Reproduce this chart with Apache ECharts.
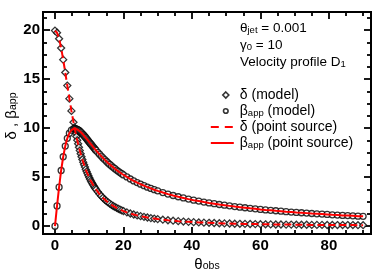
<!DOCTYPE html>
<html><head><meta charset="utf-8">
<script src="https://cdn.jsdelivr.net/npm/echarts@6/dist/echarts.min.js"></script>
<style>html,body{margin:0;padding:0;background:#fff}#c{width:382px;height:273px}</style>
</head><body><div id="c"></div>
<script>
// observation angle (deg)
const theta = [0, 0.6, 1.2, 1.8, 2.4, 3.0, 3.6, 4.2, 4.8, 5.4, 5.7,
  6, 6.25, 6.5, 6.75, 7, 7.25, 7.5, 7.75, 8, 8.25, 8.5, 8.75, 9, 9.25, 9.5, 9.75,
  10, 10.25, 10.5, 10.75, 11, 11.25, 11.5, 11.75, 12,
  12.5, 13, 13.5, 14, 14.5, 15, 15.5, 16, 16.5, 17, 17.5, 18, 18.5, 19, 19.5, 20,
  21, 22, 23, 24, 25, 26, 27, 28, 29, 30,
  31.5, 33, 34.5, 36, 37.5, 39, 40.5, 42, 43.5, 45, 46.5, 48, 49.5, 51, 52.5, 54,
  55.5, 57, 58.5, 60, 61.5, 63, 64.5, 66, 67.5, 69, 70.5, 72, 73.5, 75, 76.5, 78,
  79.5, 81, 82.5, 84, 85.5, 87, 88.5, 90];
// Doppler factor delta
const delta = [19.95, 19.74, 19.12, 18.17, 16.99, 15.68, 14.34, 13.01, 11.76, 10.61, 10.07,
  9.56, 9.15, 8.77, 8.40, 8.05, 7.71, 7.39, 7.09, 6.80, 6.53, 6.27, 6.03, 5.79, 5.57, 5.36, 5.16,
  4.97, 4.79, 4.61, 4.45, 4.29, 4.14, 4.00, 3.87, 3.74,
  3.50, 3.28, 3.08, 2.89, 2.72, 2.57, 2.43, 2.30, 2.17, 2.06, 1.96, 1.86, 1.77, 1.69, 1.61, 1.54,
  1.41, 1.29, 1.19, 1.10, 1.02, 0.95, 0.88, 0.82, 0.77, 0.72,
  0.66, 0.60, 0.56, 0.51, 0.47, 0.44, 0.41, 0.38, 0.36, 0.34, 0.32, 0.30, 0.28, 0.27, 0.25, 0.24,
  0.23, 0.22, 0.21, 0.20, 0.19, 0.18, 0.17, 0.17, 0.16, 0.16, 0.15, 0.14, 0.14, 0.13, 0.13, 0.13,
  0.12, 0.12, 0.11, 0.11, 0.11, 0.11, 0.10, 0.10];
// apparent speed beta_app
const betaApp = [0, 2.06, 3.98, 5.68, 7.08, 8.17, 8.96, 9.48, 9.79, 9.93, 9.95,
  9.94, 9.91, 9.87, 9.82, 9.76, 9.69, 9.60, 9.52, 9.42, 9.33, 9.23, 9.12, 9.02, 8.91, 8.80, 8.69,
  8.58, 8.47, 8.37, 8.26, 8.15, 8.04, 7.94, 7.83, 7.73,
  7.53, 7.34, 7.15, 6.96, 6.79, 6.62, 6.45, 6.30, 6.15, 6.00, 5.86, 5.72, 5.59, 5.47, 5.35, 5.23,
  5.02, 4.81, 4.62, 4.45, 4.28, 4.13, 3.98, 3.85, 3.72, 3.60,
  3.43, 3.27, 3.13, 3.00, 2.88, 2.76, 2.65, 2.56, 2.46, 2.37, 2.29, 2.21, 2.14, 2.07, 2.00, 1.94,
  1.88, 1.82, 1.77, 1.71, 1.66, 1.62, 1.57, 1.53, 1.48, 1.44, 1.40, 1.37, 1.33, 1.29, 1.26, 1.23,
  1.20, 1.16, 1.13, 1.10, 1.08, 1.05, 1.02, 1.00];

const xMajor = [0, 20, 40, 60, 80];
const xMinor = [5, 10, 15, 25, 30, 35, 45, 50, 55, 65, 70, 75, 85, 90];
const yMajor = [0, 5, 10, 15, 20];
const yMinor = [1.25, 2.5, 3.75, 6.25, 7.5, 8.75, 11.25, 12.5, 13.75, 16.25, 17.5, 18.75, 21.25];

const FF = "'Liberation Sans', Arial, sans-serif";
const X_MIN = -3.5, X_MAX = 92.3, Y_MIN = -0.8, Y_MAX = 21.85;

function richStyles(size, sub) {
  return {
    n: { fontSize: size, fontFamily: FF, color: '#000', lineHeight: 14 },
    s: { fontSize: sub, fontFamily: FF, color: '#000', lineHeight: 6, verticalAlign: 'bottom' }
  };
}

function xAx(pos, vals, len, labels) {
  return {
    type: 'value', position: pos, min: X_MIN, max: X_MAX,
    axisLine: { show: true, onZero: false, lineStyle: { color: '#000', width: 2 } },
    axisTick: { show: true, inside: true, length: len, customValues: vals, lineStyle: { color: '#000', width: 1.8 } },
    axisLabel: labels ? { show: true, customValues: vals, margin: 4, color: '#000', fontSize: 15, fontWeight: 'bold', fontFamily: FF } : { show: false },
    splitLine: { show: false }, minorTick: { show: false }
  };
}
function yAx(pos, vals, len, labels) {
  return {
    type: 'value', position: pos, min: Y_MIN, max: Y_MAX,
    axisLine: { show: true, onZero: false, lineStyle: { color: '#000', width: 2 } },
    axisTick: { show: true, inside: true, length: len, customValues: vals, lineStyle: { color: '#000', width: 1.8 } },
    axisLabel: labels ? { show: true, customValues: vals, margin: 3, color: '#000', fontSize: 15, fontWeight: 'bold', fontFamily: FF } : { show: false },
    splitLine: { show: false }, minorTick: { show: false }
  };
}

const nameMap = {
  'delta_model': '{n|δ (model)}',
  'beta_model': '{n|β}{s|app}{n| (model)}',
  'delta_ps': '{n|δ (point source)}',
  'beta_ps': '{n|β}{s|app}{n| (point source)}'
};

const ptsDelta = theta.map((t, i) => [t, delta[i]]);
const ptsBeta = theta.map((t, i) => [t, betaApp[i]]);

const chart = echarts.init(document.getElementById('c'), null, { renderer: 'canvas' });
chart.setOption({
  animation: false,
  backgroundColor: '#fff',
  grid: { left: 43, right: 11, top: 12, bottom: 39, containLabel: false, outerBoundsMode: 'none' },
  xAxis: [xAx('bottom', xMajor, 7, true), xAx('bottom', xMinor, 4, false), xAx('top', xMajor, 7, false), xAx('top', xMinor, 4, false)],
  yAxis: [yAx('left', yMajor, 7, true), yAx('left', yMinor, 4, false), yAx('right', yMajor, 7, false), yAx('right', yMinor, 4, false)],
  legend: {
    orient: 'vertical', left: 210, top: 88, padding: 0, itemWidth: 24, itemHeight: 7, itemGap: 2, itemNameGap: 5,
    symbolKeepAspect: true,
    data: [
      { name: 'delta_model', icon: 'path://M0,0 M24,7 M15,0.5L18,3.5L15,6.5L12,3.5Z', itemStyle: { color: '#fff', borderColor: '#000', borderWidth: 1.6 } },
      { name: 'beta_model', icon: 'path://M0,0 M24,7 M15,1.2A2.3,2.3 0 1 1 14.99,1.2Z', itemStyle: { color: '#fff', borderColor: '#000', borderWidth: 1.6 } },
      { name: 'delta_ps', icon: 'path://M0,0 M24,7 M0,2.5H8V4.5H0Z M14,2.5H22V4.5H14Z', itemStyle: { color: '#ff0000', borderWidth: 0 } },
      { name: 'beta_ps', icon: 'path://M0,0 M24,7 M0,2.5H23V4.5H0Z', itemStyle: { color: '#ff0000', borderWidth: 0 } }
    ],
    formatter: n => nameMap[n],
    textStyle: { color: '#000', fontFamily: FF, fontSize: 14, rich: richStyles(14, 9.5) }
  },
  series: [
    { name: 'delta_model', type: 'scatter', data: ptsDelta, symbol: 'diamond', symbolSize: 7,
      itemStyle: { color: '#fff', borderColor: '#000', borderWidth: 1.3 }, z: 2 },
    { name: 'beta_model', type: 'scatter', data: ptsBeta, symbol: 'circle', symbolSize: 6,
      itemStyle: { color: '#fff', borderColor: '#000', borderWidth: 1.3 }, z: 2 },
    { name: 'delta_ps', type: 'line', data: ptsDelta, symbol: 'none', showSymbol: false,
      lineStyle: { color: '#ff0000', width: 2, type: [7, 4] }, itemStyle: { color: '#ff0000' }, z: 3 },
    { name: 'beta_ps', type: 'line', data: ptsBeta, symbol: 'none', showSymbol: false,
      lineStyle: { color: '#ff0000', width: 2 }, itemStyle: { color: '#ff0000' }, z: 3 }
  ],
  graphic: [
    { type: 'text', x: 12, y: 116, rotation: Math.PI / 2,
      style: { text: '{n|δ , β}{s|app}', align: 'center', verticalAlign: 'middle', rich: richStyles(15, 10.5) } },
    { type: 'text', x: 207, y: 265,
      style: { text: '{n|θ}{s|obs}', align: 'center', verticalAlign: 'middle', rich: richStyles(15, 10.5) } },
    { type: 'text', x: 240, y: 28,
      style: { text: '{n|θ}{s|jet}{n| = 0.001}', align: 'left', verticalAlign: 'middle', rich: richStyles(13.5, 9.5) } },
    { type: 'text', x: 240, y: 45,
      style: { text: '{n|γ}{s|0}{n| = 10}', align: 'left', verticalAlign: 'middle', rich: richStyles(13.5, 9.5) } },
    { type: 'text', x: 240, y: 62,
      style: { text: '{n|Velocity profile D}{s|1}', align: 'left', verticalAlign: 'middle', rich: richStyles(13.5, 9.5) } }
  ]
});
</script></body></html>
